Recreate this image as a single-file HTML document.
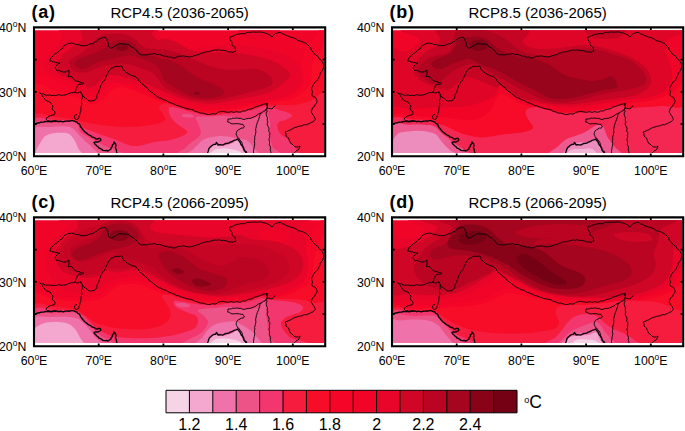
<!DOCTYPE html>
<html><head><meta charset="utf-8"><title>fig</title>
<style>html,body{margin:0;padding:0;background:#fff;overflow:hidden}svg{display:block}text{font-family:"Liberation Sans",sans-serif;fill:#000}</style></head><body>
<svg width="685" height="431" viewBox="0 0 685 431">
<defs><clipPath id="cp"><rect x="35" y="30.2" width="289" height="122.7"/></clipPath>
<g id="bd" fill="none" stroke="#10040a" stroke-linejoin="round" stroke-linecap="round"><path d="M50 61L50.3 59.4L51 58L51.8 56.8L53.1 56.1L54 55L55.1 53.7L56.7 53L58 52L59.3 50.9L60.4 49.6L62 49L63 47.7L63.6 46.1L65 45L66.6 44.4L68.2 43.5L70 43.4L71.5 43L73 43.4L74.4 43.7L75.6 44.5L77 44.6L78.4 44.6L79.7 45L81 45.6L83 45.7L85 45.6L86.8 45.5L88.4 44.6L90 44L91.3 43.6L92.8 43.8L94 43L95.1 41.6L96.9 41.3L98 40L99.2 39.1L100.5 38.3L102 38L103.4 37.3L105 37.4L106.1 38.1L107 39L107 40.4L108 41.6L108 43L108.3 44.4L108.5 45.7L109 47L110.1 47.6L111 48.4L112.5 47.7L114 47L115.3 45.6L117 45L118.2 44.1L119.6 43.8L121 43.6L122.5 44L124 44L125.7 44.1L127.4 44.2L129 44.6L130 46L131.5 46.9L133 47.6L134.5 48.8L136 50L137.2 51.1L137.8 52.6L139 53.6L140.4 54.5L142 55L144 54.7L146 55L147.4 54.7L148.7 54.4L150 54L151.4 54.2L152.7 54L154 53.6L155.4 53.7L156.6 54.6L158 54.4L159.8 54.4L161.4 55.1L163 55.6L164.6 56.3L166.4 56.2L168 57L169.5 57.2L171.1 57L172.5 57.9L174 58L175.8 57.6L177.4 56.7L179 56L180.7 56.4L182.3 55.8L184 56L185.5 56.4L187 56.6L188.5 56.8L190 57L191.3 56.5L192.8 56.4L194 55.6L195.6 55.6L197 54.8L198.5 54.6L200 54L201.5 52.9L203.4 52.9L205 52L206.7 51.8L208.4 51.8L210 51L211.6 51.1L213 50.3L214.5 50.1L216 50L217.5 50.3L219 49.7L220.5 50.3L222 50.4L223.6 50.4L225.1 50.6L226.6 50.9L228 51.6L229.6 52.1L231.4 51.8L233 52.4L234.4 51.5L236 51L235.4 49.3L235 47.6L233.9 46.3L232.4 45.6L231.8 44.1L232 42.4L231 41L230 39.6L229.8 38.3L229.6 37L231.1 36.9L232.4 36.3L233.8 35.8L235 35L236.7 34.4L238.5 34.2L240.2 33.8L242 33.6L243.7 33.7L245.3 33.6L246.7 32.5L248.4 32.3L250 32.4L251.6 32.1L253.2 32L254.8 32.1L256.4 32.2L258 32L259.8 32L261.6 32L263.3 32.7L265 33L266.7 33.5L268.3 34.4L270 35L270.7 36.3L272 37L273.1 36L274 34.7L275 33.6L276.4 33.3L277.7 33L279 32.4L280.8 32.5L282.2 33.8L284 34L285.5 35.1L287.2 35.9L289 36.4L290.6 37.2L292.4 37.4L294 38L295.3 38.7L296.7 39.2L297.7 40.4L299 41L300.6 41.1L302.1 41.6L303.6 42.2L305 43L306.5 43.7L307.8 44.9L309 46L310.1 47.1L310.8 48.4L311 50L312.3 51L313.3 52.1L314 53.6L315.6 54.7L317 56L318.3 56.7L318.7 58.3L320 59L320.9 60.4L322.3 61.5L323 63L323.4 64.3L323.6 65.6L323.6 67L323.2 68.4L322.9 69.8L322 71L321 72.2L320.2 73.4L320 75L319.4 76.3L318.7 77.7L318 79L317.3 80.3L316.3 81.3L315 82L314.1 83.6L313 85L312.8 86.4L311.8 87.6L311.6 89L312.1 90.7L312.5 92.4L311.8 94.3L312.4 96L313.6 96.7L315 97L316 98L316.3 99.3L317.1 100.6L317 102L316.3 103.3L315.2 104.5L315 106L313.7 106.7L312.9 107.9L312 109L311.7 110.6L311 112L312.1 113.4L313 115L314.1 116.2L314.5 117.8L315.6 119L314.3 120.5L313 122L311.2 122.4L309.7 123.5L308 124L306.6 124.8L304.9 124.7L303.3 125L302 126L300.3 126L298.6 126.4L297 127L295.2 127.4L293.6 128.1L292 129L290.8 129.9L289.3 130.3L288 131L286.5 131.6L285 132L285.8 133.2L286.1 134.6L286 136L287.2 136.8L288.2 137.8L289 139L289.3 140.6L290 142L290.7 143.3L292 144L293 145L294.1 146.1L295.4 146.8L297 147L298.6 146.9L300 146L299.6 147.5L299 149L297.7 150.2L296 151L295.2 152.2L294 153" stroke-width="0.95"/><path d="M50 61L51.6 61.2L53 62L54.4 61.9L55.6 62.5L57 62.6L58.4 63.2L60 63L58.3 63.7L57 65L56 66L55 67L55.4 68.5L56 70L57.3 70.6L58.8 70.3L60 71L61.6 71.5L63.3 72.1L65 72L66.5 71.6L67.8 70.9L69 70L69 72L69 74L68.8 75.3L68 76.4L69.5 76.7L71 76.4L72.1 77.1L73 78L73.8 79.2L74.7 80.3L76 81L77.4 81.2L78.7 81.6L80 82L81.2 82.8L82.6 82.9L84 83L83 84L81 84.3L79 84L78.3 85.3L77 86L77 87.4L75.9 88.6L76 90L75 92" stroke-width="0.95"/><path d="M75 92L76.4 92.8L78 93L79.4 92.2L81 92L81.4 93.2L82.4 94L82.8 95.7L84 97L85.4 98.1L87 99L88.1 99.9L89 101L90.7 101L92.3 100.6L94 101L94.7 99.7L96 99L96.8 97.8L96.8 96.4L97 95L97.7 93.7L98.7 92.5L99 91L99.4 89.3L100.3 87.8L100.4 86L101.5 84.7L102 83L102.8 81.8L103.8 80.8L105 80L105.5 78.3L106.1 76.6L107 75L107.7 73.7L108.1 72.2L109 71L109.9 69.9L110.7 68.7L112 68L113.7 67.6L115 66.4L117 66.3L119 66.4L120.5 66.2L122 66L122.4 67.5L123 69L123.7 70.3L125.1 70.9L126 72L127.3 73.3L129 74L130.5 74.8L132 75.6L133.5 76L135 76.4L136 77.2L137 78L138.4 79.2L139 81L140 82L141.2 82.8L142 84L143.6 84.6L144.5 86.2L146 87L147.2 87.8L148 89L148.8 90.2L150 91L151.3 92L152.8 92.9L154 94L155.5 95.2L157 96.4L158.2 97.1L159.4 98L160.9 98L162 99L163.5 99.7L165.1 100.1L166.6 100.7L168 101.6L169.4 102.5L171 102.8L172.5 103.5L174 104L175.4 104.8L176.8 105.6L178.5 105.7L180 106.4L181.5 107L183 107.4L184.5 107.9L186 108.4L187.5 108.9L189 109L190.5 109.3L192 109.6L193.5 110.2L194.8 111.2L196.4 111.6L198 112L199.4 112.8L200.9 113.2L202.6 113L204 113.6L205.5 113.9L206.9 114.4L208.5 114.5L210 114.4L211.5 113.9L213 113.8L214.5 114L216 114L217.3 112.6L219 112L220.6 111.6L222.3 111.3L224 111.6L225.5 111.9L227 112.1L228.5 112.3L230 112L231.6 111.7L233.2 112.2L234.8 112.2L236.4 111.6L238 112L239.6 112.1L241.1 112L242.5 111L244 111L245.6 110.9L247 109.9L248.5 109.5L250 109L251.7 109L253.1 108.3L254.4 107.2L256 107L257.5 106.4L259 106L260.4 105.3L262 105L263.6 104.2L265.3 103.9L267 103.6" stroke-width="0.95"/><path d="M40 93L41.6 93.9L43.5 93.9L45 95L46.7 95.2L48.5 95.2L50.3 95L52 95.6L53.6 95.3L55.2 95.5L56.8 95.3L58.4 94.7L60 95L61.8 95.3L63.5 95L65.3 95L67 94.4L68.5 93.5L70.1 93.2L71.7 92.5L73.5 92.7L75 92" stroke-width="0.95"/><path d="M40 93L41.2 94.2L42.3 95.4L43 97L44.1 97.9L44.7 99.3L45.8 100.2L47 101L48.4 101.5L49.8 102L51 103L51.7 104.7L53 106L52.7 107.3L52.4 108.6L52.4 110L54 110.7L55 112L54.9 113.6L54 115L52.3 115.1L50.7 115.7L49 116L48 117.3L46.4 118L46.3 119.3L47 120.4L48.7 120.7L50.3 121.1L52 121L53.5 120.7L55 121.7L56.5 121L58 121.6" stroke-width="0.95"/><path d="M81 92L81.1 93.5L82 94.7L82.4 96L82.4 97.5L81.9 99L81.4 100.4L81.6 102L81.7 103.5L81.7 105L81.1 106.5L81 108L80.9 109.7L80.7 111.4L80 113L79.8 114.6L79 116L78.9 117.6L78 119L76.7 119.4L75.4 119.2L74.7 117.7L74.4 116L75.4 115.1L76.6 114.6" stroke-width="0.95"/><path d="M34 124.4L35.4 124.2L36.6 123.3L38 123L39.5 122.8L40.9 122.2L42.5 122.1L44 122L45.5 121.4L47 121.6L48.5 121.2L50 121.6L51.5 121.7L53 121.4L54.5 120.8L56 121L57.5 121.1L59 121.7L60.5 121.1L62 121.6L63.5 121.8L65 121.2L66.5 121.1L68 121L69.7 121.2L71.3 120.6L73 120.6L74.3 121.1L75.6 121.7L77 122L77.7 123.3L79.1 123.9L80 125L80.5 126.5L81.4 127.8L82.4 129L83.6 130.6L85 132L86.6 133.1L88 134.4L89.4 135.1L90.9 135.8L92 137L93.5 137.3L94.9 137.9L96 139L97.4 139L98.6 138.4L100 138.4L101 140L99.8 141L98.5 141.7L97 142L95.5 141.9L94 142.4L94.7 143.9L96 145L96.9 146.1L98.2 146.8L99 148L100.5 148.6L101.8 149.4L103 150.4L104.7 150.6L106.4 150.5L108 151L109.5 150L111 149L111.2 147.6L112.4 146.5L112.4 145L113.6 143.7L114 142L114.8 143L115.6 144L116 145.6L115.4 147.4L116 149L116.4 150.5L116.6 152L117.2 153.4L117 155" stroke-width="1.4"/><path d="M207 155L207.4 153.4L208 151.8L208.5 150.2L209 148.6L209.8 147.4L211 146.6L212 145.6L213.6 144.5L215.6 144.4L216.4 142.4L217.4 143.6L218 145L219.7 144.6L221.3 144.9L223 145L224.4 144.1L225.8 143.5L227.4 143.3L229 143L230.1 142.1L231.5 141.8L232.8 141.1L234 140.4L235.9 139.9L237.6 139L238.7 140.6L240 142L240.6 143.4L241.3 144.9L242.4 146L243.1 147.2L243.9 148.4L243.9 150L245 151L246.3 151.9L246.8 153.4L248 154.4" stroke-width="1.4"/><path d="M267 103.6L267.2 105.3L267.6 107L267.1 108.6L265.6 109.5L265 111L263.5 111.3L262.3 112.2L261 113L259.6 113.5L258.2 114.1L257 115L255.9 116.1L254.3 116.6L253 117.4L251.5 117.9L250 118.4L248.4 118.4L246.9 118.7L245.4 119L244 119.6L242.4 119.1L240.8 118.4L239 118.4L237.5 118.1L236 118L234.5 118.4L233 118L231.4 118.8L229.7 119L228 119L227.9 120.5L227.6 122L229.5 122.4L231 123.6L232.8 123.9L234.5 123.7L236.2 123.7L238 123.6L239.6 124L241.3 124.3L243 124.4L243.7 125.7L244.4 127L243.1 128.1L241.3 128.1L240 129L238.4 129.8L237 131L236.5 132.5L236 134L236.6 135.3L237.2 136.7L238 138L239.3 138.7L239.8 140.2L241 141L241.7 142.3L242.3 143.5L242.4 145L243 146.3L243 147.7L243.6 149L244.6 150.4L245 152L246.4 153.4L248 154.4" stroke-width="0.95"/><path d="M261 113L259.9 114.5L259.7 116.3L259 118L258.6 119.5L258 121L257.3 122.4L257 124L256.4 125.4L256.2 127L255.8 128.5L255.6 130L255.9 131.5L255.7 133L255.4 134.5L255 136L254.6 137.5L254.9 139L254.5 140.5L254.4 142L254.8 143.5L254.6 145L254.3 146.5L254 148L253.7 149.7L253.5 151.3L253.6 153" stroke-width="0.95"/><path d="M267 103.6L266.8 105.1L267.2 106.5L267 108L268.7 108.3L270.3 108.6L272 109L273 108L273.7 106.7L275 106" stroke-width="0.95"/><path d="M267 108L266.5 109.6L267.1 111.2L266.3 112.8L266.2 114.4L266.6 116L267.4 117.4L267.3 119L267.3 120.6L268 122L267.2 123.4L267.4 125L268.2 126.5L269 128L269 129.5L268.6 131L269.6 132.4L270 134L269.3 135.4L269.8 137L269.2 138.5L269 140L269.6 141.4L269.5 143L269.3 144.6L270 146L270.6 147.7L270.2 149.5L270.7 151.3L271 153" stroke-width="0.95"/></g>
<g id="fr"><path d="M34 27.4 H325.2 V156.2 H34 Z" fill="none" stroke="#000" stroke-width="2.1"/><path d="M98.7 27.4v2.6M98.7 156.2v-2.6M163.4 27.4v2.6M163.4 156.2v-2.6M228.1 27.4v2.6M228.1 156.2v-2.6M292.8 27.4v2.6M292.8 156.2v-2.6M34 124h2.6M325.2 124h-2.6M34 91.8h2.6M325.2 91.8h-2.6M34 59.6h2.6M325.2 59.6h-2.6" stroke="#000" stroke-width="1.8" fill="none"/></g>
</defs>
<g transform="translate(0 0)">
<rect x="34" y="27.4" width="291.2" height="128.8" fill="#fff"/>
<g clip-path="url(#cp)">
<rect x="34" y="28" width="292" height="128" fill="#f00428"/>
<path d="M66 27C51.3 28.8 64 34.2 62 38C60 41.8 56.7 46.5 54 50C51.3 53.5 47.7 56.3 46 59C44.3 61.7 43.5 63.7 44 66C44.5 68.3 46.3 70.9 49 73C51.7 75.1 56.8 77.3 60 78.5C63.2 79.7 65.3 79.1 68 80C70.7 80.9 73.7 82.3 76 84C78.3 85.7 80 88.5 82 90C84 91.5 85.7 93 88 93C90.3 93 94 91.5 96 90C98 88.5 98.3 85.7 100 84C101.7 82.3 103.7 80.3 106 80C108.3 79.7 111 81.3 114 82C117 82.7 120.7 83.7 124 84C127.3 84.3 131 83.7 134 84C137 84.3 139.3 85 142 86C144.7 87 147.3 88.7 150 90C152.7 91.3 155.2 92.8 158 94C160.8 95.2 163.3 95.8 167 97C170.7 98.2 175.3 99.8 180 101C184.7 102.2 190 103.7 195 104.5C200 105.3 204.2 105.9 210 106C215.8 106.1 223.3 105.7 230 105C236.7 104.3 244 102.2 250 102C256 101.8 259.3 105.3 266 104C272.7 102.7 284 98 290 94C296 90 300.7 85 302 80C303.3 75 300.8 68.2 298 64C295.2 59.8 289.7 57.3 285 55C280.3 52.7 275.8 51.5 270 50C264.2 48.5 255.7 46.8 250 46C244.3 45.2 240.2 45.2 236 45C231.8 44.8 229.3 44.7 225 45C220.7 45.3 215.8 46.5 210 47C204.2 47.5 196.7 48.7 190 48C183.3 47.3 175.3 45.2 170 43C164.7 40.8 161.3 37.7 158 35C154.7 32.3 165.3 28.3 150 27C134.7 25.7 80.7 25.2 66 27Z" fill="#e80529"/>
<path d="M86 27C74.8 29 84.5 35.8 82.6 39C80.7 42.2 77.3 43.7 74.4 46C71.5 48.3 67.9 50.2 65 53C62.1 55.8 58.6 60 57 62.5C55.4 65 55 66.1 55.5 68C56 69.9 57.2 72 60 74C62.8 76 68 78.2 72 80C76 81.8 81.2 83.2 84 84.5C86.8 85.8 87.2 87.3 89 87.5C90.8 87.7 93 86.8 95 85.5C97 84.2 98.8 81.2 101 79.5C103.2 77.8 105.2 76.2 108 75.5C110.8 74.8 115 75.1 118 75.5C121 75.9 123.3 77.2 126 78C128.7 78.8 131.3 79.3 134 80C136.7 80.7 139.3 81.2 142 82C144.7 82.8 147.3 83.8 150 85C152.7 86.2 155.2 87.7 158 89C160.8 90.3 163.3 91.5 167 93C170.7 94.5 175.3 96.5 180 98C184.7 99.5 190 101.1 195 102C200 102.9 205 103.5 210 103.5C215 103.5 220 102.8 225 102C230 101.2 234.2 100.2 240 99C245.8 97.8 254.3 96.5 260 95C265.7 93.5 269 93.2 274 90C279 86.8 288.7 80 290 76C291.3 72 285.3 68.7 282 66C278.7 63.3 275.3 61.8 270 60C264.7 58.2 256.7 56.3 250 55C243.3 53.7 236.7 52.3 230 52C223.3 51.7 216.7 53.3 210 53C203.3 52.7 195 51.5 190 50C185 48.5 183.8 45.8 180 44C176.2 42.2 170.7 39.7 167 39C163.3 38.3 160.5 40.8 158 40C155.5 39.2 153.3 36.2 152 34C150.7 31.8 161 28.2 150 27C139 25.8 97.2 25 86 27Z" fill="#d00626"/>
<path d="M70 60C71 59 73.3 58 75 57C76.7 56 77.8 55.6 80 54C82.2 52.4 85.9 49.9 88.5 47.5C91.1 45.1 93.1 41.6 95.5 39.5C97.9 37.4 99.9 36 103 35C106.1 34 110.5 33.7 114 33.5C117.5 33.3 120.8 33.3 124 34C127.2 34.7 130.5 36 133 37.5C135.5 39 136.8 41.2 139 43C141.2 44.8 143.2 47 146 48C148.8 49 152.5 48.7 156 49C159.5 49.3 163 49.2 167 50C171 50.8 175.3 52.3 180 54C184.7 55.7 190 58 195 60C200 62 204.2 64.3 210 66C215.8 67.7 222.3 69.5 230 70C237.7 70.5 249.3 68 256 69C262.7 70 267.3 73.5 270 76C272.7 78.5 273.3 81.8 272 84C270.7 86.2 265.7 87.7 262 89C258.3 90.3 254.5 90.8 250 92C245.5 93.2 240 94.8 235 96C230 97.2 225 98.8 220 99.5C215 100.2 210 100.7 205 100.5C200 100.3 194.5 99.6 190 98.5C185.5 97.4 181.8 95.6 178 94C174.2 92.4 169.8 90.8 167 89C164.2 87.2 163 85.3 161 83C159 80.7 157.2 77 155 75C152.8 73 150.6 72.2 147.9 71C145.2 69.8 141.7 68.5 139 67.5C136.3 66.5 134.9 65.4 132 64.8C129.1 64.2 124.6 63.9 121.4 63.8C118.2 63.7 115.8 64.1 112.9 64.4C110 64.7 107 65 104 65.8C101 66.6 98.1 67.9 95.2 69C92.3 70.1 89.3 71.8 86.4 72.4C83.5 73 80.1 73 77.6 72.4C75.1 71.8 72.9 70.6 71.5 69C70.1 67.4 69.2 64.5 69 63C68.8 61.5 69 61 70 60Z" fill="#bb0422"/>
<path d="M74 62.8C74.3 61.3 77.1 59.7 79.4 58.5C81.7 57.3 85.1 56.6 88 55.5C90.9 54.4 94.3 53.2 97 52C99.7 50.8 102.2 49.7 104 48.5C105.8 47.3 106.7 46.1 108 45C109.3 43.9 110.3 42.8 112 42C113.7 41.2 115.5 40.7 117.9 40.4C120.4 40.1 124 39.9 126.7 40.2C129.3 40.5 132 41.3 133.8 42.4C135.6 43.5 136.1 45.3 137.3 46.8C138.5 48.3 139 49.9 140.8 51.2C142.6 52.5 145.5 53.8 147.9 54.7C150.3 55.6 152.6 55.8 155 56.5C157.4 57.2 159.9 58.5 162.3 59.1C164.7 59.7 167 59.3 169.3 60C171.7 60.7 174.1 62.3 176.4 63.5C178.7 64.7 180.6 65.3 183 67C185.4 68.7 187.8 71.4 191 73.5C194.2 75.6 198.5 77.8 202 79.5C205.5 81.2 208.7 81.9 212 83.5C215.3 85.1 220 87.5 222 89C224 90.5 224.2 91.4 224 92.5C223.8 93.6 223 94.6 221 95.5C219 96.4 215.5 97.6 212 98C208.5 98.4 203.7 98.4 200 98C196.3 97.6 193.3 96.8 190 95.5C186.7 94.2 183 92.1 180 90.5C177 88.9 174.3 87.4 172 86C169.7 84.6 167.6 83.5 166 82C164.4 80.5 163.2 78.6 162.3 76.7C161.4 74.8 161.7 72.6 160.5 70.6C159.3 68.6 157.3 66.1 155.2 64.5C153.1 62.9 150.3 62 147.9 61C145.5 60 143 59.2 140.8 58.4C138.6 57.6 136.7 56.5 134.6 56C132.5 55.5 130.9 55.3 128.5 55.5C126.1 55.7 123.2 56.4 120 57C116.8 57.6 112.2 58.7 109.3 59.4C106.3 60.1 104.6 60.5 102.3 61.1C100 61.8 97.4 62.3 95.2 63.3C93 64.2 91.1 65.8 89.1 66.8C87 67.8 84.8 68.9 82.9 69C81 69.1 79.1 68.3 77.6 67.3C76.1 66.3 73.7 64.3 74 62.8Z" fill="#a60520"/>
<path d="M240 27C234.3 28.5 241.3 34 244 36C246.7 38 252 38.7 256 39C260 39.3 264.7 38.8 268 38C271.3 37.2 274.3 35.8 276 34C277.7 32.2 284 28.2 278 27C272 25.8 245.7 25.5 240 27Z" fill="#e80529"/>
<path d="M115.7 47C115.7 46.1 116.5 44.9 117.5 44.2C118.5 43.5 120.5 43 122 43C123.5 43 125.5 43.5 126.5 44.2C127.5 44.9 128.3 46.1 128.3 47C128.3 47.9 127.5 49.1 126.5 49.8C125.5 50.5 123.5 51 122 51C120.5 51 118.5 50.5 117.5 49.8C116.5 49.1 115.7 47.9 115.7 47Z" fill="#880318"/>
<path d="M194 93C194.3 92.6 196 92 197 92C198 92 199.8 92.6 200 93C200.2 93.4 198.8 94.4 198 94.6C197.2 94.8 195.7 94.7 195 94.4C194.3 94.1 193.7 93.4 194 93Z" fill="#880318"/>
<path d="M33 80C37.5 67.7 52.2 81 60 83C67.8 85 74.5 89.5 80 92C85.5 94.5 89.2 98.3 93 98C96.8 97.7 100.2 92.5 103 90C105.8 87.5 106.3 84 110 83C113.7 82 120 82.7 125 84C130 85.3 135 88.5 140 91C145 93.5 150 96.8 155 99C160 101.2 164.2 103 170 104.5C175.8 106 183.3 107.2 190 108C196.7 108.8 203.3 109.5 210 109.5C216.7 109.5 223.3 108.9 230 108C236.7 107.1 243.3 105.3 250 104C256.7 102.7 263.3 101.3 270 100C276.7 98.7 284.5 98.7 290 96C295.5 93.3 301 89.3 303 84C305 78.7 301.7 69.7 302 64C302.3 58.3 303.3 54 305 50C306.7 46 308.5 42.3 312 40C315.5 37.7 323.7 16.5 326 36C328.3 55.5 374.8 136.8 326 157C277.2 177.2 81.8 169.8 33 157C-15.8 144.2 28.5 92.3 33 80Z" fill="#f50527"/>
<path d="M33 88C36.7 77 48 89.5 55 91C62 92.5 68.8 94.8 75 97C81.2 99.2 87.2 103.8 92 104C96.8 104.2 100.7 100.3 104 98C107.3 95.7 109 91.8 112 90C115 88.2 118.2 86.8 122 87C125.8 87.2 130.3 89.3 135 91C139.7 92.7 145 95.1 150 97C155 98.9 159.2 100.6 165 102.5C170.8 104.4 177.5 107 185 108.5C192.5 110 201.7 111.3 210 111.5C218.3 111.7 227.5 110.6 235 109.5C242.5 108.4 248.3 106.2 255 105C261.7 103.8 268.3 103.2 275 102C281.7 100.8 289.2 101 295 98C300.8 95 307.2 89.3 310 84C312.8 78.7 310.7 70.7 312 66C313.3 61.3 315.7 58.3 318 56C320.3 53.7 324.7 35.2 326 52C327.3 68.8 374.8 139.5 326 157C277.2 174.5 81.8 168.5 33 157C-15.8 145.5 29.3 99 33 88Z" fill="#f70d28"/>
<path d="M33 116C36.7 109.3 48 116.4 55 117C62 117.6 70.8 118.8 75 119.5C79.2 120.2 76.7 120.2 80 121C83.3 121.8 89 123.1 95 124C101 124.9 108.8 126 116 126.4C123.2 126.8 131.3 126.8 138 126.4C144.7 126 151.5 125.1 156 124C160.5 122.9 164 121.9 165 120C166 118.1 163 114.5 162 112.5C161 110.5 159 109.4 159 108C159 106.6 160.5 104.8 162 104C163.5 103.2 165 103 168 103.5C171 104 176 105.8 180 107C184 108.2 188 109.5 192 110.5C196 111.5 200 112.5 204 113C208 113.5 211.7 113.8 216 113.5C220.3 113.2 225.2 112.2 230 111.5C234.8 110.8 239.7 110.5 245 109.5C250.3 108.5 256.2 106.2 262 105.5C267.8 104.8 274.5 105.1 280 105C285.5 104.9 290 105.7 295 105C300 104.3 304.8 102.5 310 101C315.2 99.5 323.3 86.7 326 96C328.7 105.3 374.8 146.8 326 157C277.2 167.2 81.8 163.8 33 157C-15.8 150.2 29.3 122.7 33 116Z" fill="#f61c3e"/>
<path d="M33 120.5C36.7 114.3 47.8 119.9 55 120C62.2 120.1 71.8 120 76 121C80.2 122 77.8 124.5 80 126C82.2 127.5 85.3 128.5 89 130C92.7 131.5 97.4 133.3 102 135C106.6 136.7 111.8 138.3 116.5 140C121.2 141.7 125.9 144.5 130 145.4C134.1 146.3 136.7 146 141 145.4C145.3 144.8 151.3 142.7 156 141.8C160.7 141 164.9 141.2 169 140.3C173.1 139.5 177.5 137.9 180.5 136.7C183.5 135.5 186.2 134.2 187 133C187.8 131.8 186.8 131.1 185 129.4C183.2 127.7 178.5 125.3 176 123C173.5 120.7 171.2 118 170 115.5C168.8 113 168.2 109.3 169 108C169.8 106.7 172.2 107.1 175 107.5C177.8 107.9 182.2 109.5 186 110.5C189.8 111.5 194 112.7 198 113.5C202 114.3 206.3 115.3 210 115.5C213.7 115.7 215.8 114.9 220 114.5C224.2 114.1 230 113.7 235 113C240 112.3 244.8 111.6 250 110.5C255.2 109.4 261.2 106.6 266 106.5C270.8 106.4 275.2 108.9 279 110C282.8 111.1 286.5 112 288.7 113C290.9 114 292.5 114.8 292 116C291.5 117.2 287.7 119 285.5 120C283.3 121 280.4 120.8 279 122C277.6 123.2 277.1 125.4 277.4 127.4C277.7 129.4 279 132.1 280.6 134C282.2 135.9 284.8 136.8 287 138.7C289.2 140.6 291.9 143 293.6 145.2C295.3 147.4 296.8 149.7 297 151.7C297.2 153.7 339 156.1 295 157C251 157.9 76.7 163.1 33 157C-10.7 150.9 29.3 126.7 33 120.5Z" fill="#f3366e"/>
<path d="M33 124.5C36.7 118.8 47.8 123.3 55 123C62.2 122.7 71.8 121.1 76 122.5C80.2 123.9 77.8 129 80 131.5C82.2 134 85.8 135.5 89 137.4C92.2 139.3 95.7 141.3 99 143C102.3 144.7 105.8 146.3 109 147.6C112.2 148.9 115.5 149.4 118 151C120.5 152.6 138.2 156 124 157C109.8 158 48.2 162.4 33 157C17.8 151.6 29.3 130.2 33 124.5Z" fill="#ee5388"/>
<path d="M182 157C167.2 155.4 184.3 150.1 186 147.6C187.7 145.1 190 143.5 192 141.8C194 140.1 196.5 138.9 198 137.4C199.5 135.9 200.7 134.5 201 133C201.3 131.5 200.5 130.3 200 128.6C199.5 126.9 198.6 124.9 198 123C197.4 121.1 194.5 118.1 196.5 117C198.5 115.9 205.2 116.7 210 116.5C214.8 116.3 218.8 115.7 225 116C231.2 116.3 241.5 118.3 247 118.5C252.5 118.7 254.8 117.9 258 117C261.2 116.1 264 112.2 266 113C268 113.8 269.3 118.3 270 122C270.7 125.7 269.7 131 270 135C270.3 139 271.2 142.3 272 146C272.8 149.7 290 155.2 275 157C260 158.8 196.8 158.6 182 157Z" fill="#ee5388"/>
<path d="M182 114.5C182.9 114.1 186.1 113.8 188 114C189.9 114.2 192.9 114.9 193.6 115.5C194.3 116.1 193.3 117.2 192 117.5C190.7 117.8 187.6 117.4 186 117.2C184.4 117 183.2 117 182.5 116.5C181.8 116 181.1 114.9 182 114.5Z" fill="#ee5388"/>
<path d="M33 130C35.8 125 43.8 127.5 50 127C56.2 126.5 65 125.5 70 127C75 128.5 77.3 133.5 80 136C82.7 138.5 84 140.1 86 142C88 143.9 90.6 145.1 92 147.6C93.4 150.1 104.4 155.4 94.6 157C84.8 158.6 43.3 161.5 33 157C22.7 152.5 30.2 135 33 130Z" fill="#ef72ab"/>
<path d="M189 157C178.9 155.7 192.1 151.1 193.6 149C195.1 146.9 196.5 146.1 198 144.7C199.5 143.2 200.5 141.5 202.4 140.3C204.3 139.1 206.5 138.1 209.7 137.4C212.9 136.7 217.5 136 221.4 136C225.3 136 230.1 136.9 233 137.4C235.9 137.9 236.8 138.6 239 139C241.2 139.4 243.8 138.8 246 140C248.2 141.2 250.7 143.2 252 146C253.3 148.8 264.5 155.2 254 157C243.5 158.8 199.1 158.3 189 157Z" fill="#ef72ab"/>
<path d="M38 157C31.7 154.2 40 143.8 42 140C44 136.2 46 135.2 50 134C54 132.8 62.2 132.3 66 133C69.8 133.7 71 135.5 73 138C75 140.5 76.8 144.8 78 148C79.2 151.2 86.7 155.5 80 157C73.3 158.5 44.3 159.8 38 157Z" fill="#f4a8cf"/>
<path d="M208 157C201.7 155.8 207.6 151.8 208 150C208.4 148.2 209.1 147 210.4 146C211.7 145 214.7 144 216 144C217.3 144 216.8 145.8 218.5 146C220.2 146.2 223.6 145.9 226 145.4C228.4 144.9 231.1 143.8 233 143C234.9 142.2 236.3 140 237.5 140.3C238.7 140.6 239.5 143 240.4 144.7C241.3 146.4 242.1 148.4 243 150.5C243.9 152.6 251.8 155.9 246 157C240.2 158.1 214.3 158.2 208 157Z" fill="#f4a8cf"/>
<path d="M211 157C206.3 155.8 212.3 151.4 214 150C215.7 148.6 218.7 148.6 221.4 148.4C224.1 148.2 227.1 148.5 230 149C232.9 149.5 237 150 239 151.3C241 152.6 246.7 156.1 242 157C237.3 157.9 215.7 158.2 211 157Z" fill="#f7d3e6"/>
<use href="#bd"/>
</g>
<use href="#fr"/>
<text x="31.6" y="17.8" font-size="18" font-weight="bold" letter-spacing="0.7">(a)</text>
<text x="179.6" y="17.5" font-size="15" text-anchor="middle">RCP4.5 (2036-2065)</text>
<text x="26.3" y="32.4" font-size="12.3" text-anchor="end">40<tspan font-size="8.5" dy="-5">o</tspan><tspan dy="5">N</tspan></text>
<text x="26.3" y="96.8" font-size="12.3" text-anchor="end">30<tspan font-size="8.5" dy="-5">o</tspan><tspan dy="5">N</tspan></text>
<text x="26.3" y="161.2" font-size="12.3" text-anchor="end">20<tspan font-size="8.5" dy="-5">o</tspan><tspan dy="5">N</tspan></text>
<text x="34" y="175" font-size="12.3" text-anchor="middle">60<tspan font-size="8.5" dy="-5">o</tspan><tspan dy="5">E</tspan></text>
<text x="98.7" y="175" font-size="12.3" text-anchor="middle">70<tspan font-size="8.5" dy="-5">o</tspan><tspan dy="5">E</tspan></text>
<text x="163.4" y="175" font-size="12.3" text-anchor="middle">80<tspan font-size="8.5" dy="-5">o</tspan><tspan dy="5">E</tspan></text>
<text x="228.1" y="175" font-size="12.3" text-anchor="middle">90<tspan font-size="8.5" dy="-5">o</tspan><tspan dy="5">E</tspan></text>
<text x="292.8" y="175" font-size="12.3" text-anchor="middle">100<tspan font-size="8.5" dy="-5">o</tspan><tspan dy="5">E</tspan></text>
</g>
<g transform="translate(358 0)">
<rect x="34" y="27.4" width="291.2" height="128.8" fill="#fff"/>
<g clip-path="url(#cp)">
<rect x="34" y="28" width="292" height="128" fill="#f00428"/>
<path d="M60.7 27C18.6 28.9 62.1 35.2 61.4 38.6C60.7 42 59.1 45.2 56.3 47.4C53.5 49.6 48.5 51.1 44.6 51.8C40.7 52.5 34.9 42.1 33 51.8C31.1 61.5 30.2 100.5 33 110C35.8 119.5 43.8 109.3 50 109C56.2 108.7 64.7 108.2 70 108C75.3 107.8 77.7 107.6 82 107.5C86.3 107.4 91.3 107.8 96 107.5C100.7 107.2 105.3 106.9 110 106C114.7 105.1 120 103.3 124 102C128 100.7 131.5 99.7 134 98C136.5 96.3 137.8 94 139 92C140.2 90 139.8 86.7 141 86C142.2 85.3 143.5 86.5 146 88C148.5 89.5 152.7 93.1 156 95C159.3 96.9 162 98.1 166 99.5C170 100.9 175.2 102.4 180 103.5C184.8 104.6 190 105.5 195 106C200 106.5 204.2 106.8 210 106.8C215.8 106.8 223.3 106.5 230 105.8C236.7 105.1 243.3 103.5 250 102.5C256.7 101.5 263.3 100.3 270 99.5C276.7 98.7 284.5 98.6 290 97.5C295.5 96.4 299.7 94.9 303 93C306.3 91.1 308.2 88.8 310 86C311.8 83.2 313.7 79.7 314 76C314.3 72.3 313 68 312 64C311 60 308.3 56 308 52C307.7 48 309 44.2 310 40C311 35.8 355.6 29.2 314 27C272.4 24.8 102.8 25.1 60.7 27Z" fill="#de0527"/>
<path d="M84 27C70 28.9 83 35.4 82 38.6C81 41.8 80 44 78.2 46C76.4 48 73.4 48.7 71 50.3C68.6 51.9 65.6 53.7 63.6 55.4C61.6 57.1 60.4 58.7 59.2 60.5C58 62.3 56.9 64.5 56.3 66.4C55.7 68.4 55.1 70.3 55.6 72.2C56.1 74.1 57.4 76.3 59.2 78C61 79.7 64 81.3 66.5 82.5C69 83.7 71.7 84.5 73.9 85.4C76.2 86.3 77.7 87.2 80 88C82.3 88.8 85.3 90.3 88 90C90.7 89.7 93.7 87.7 96 86C98.3 84.3 99.7 81.5 102 80C104.3 78.5 107 77 110 77C113 77 116.7 78.8 120 80C123.3 81.2 126.7 82.7 130 84C133.3 85.3 136.7 86.5 140 88C143.3 89.5 146.7 91.5 150 93C153.3 94.5 156.3 95.8 160 97C163.7 98.2 167 99 172 100C177 101 184.7 102.5 190 103.2C195.3 103.9 199 104.1 204 104.2C209 104.3 214 104.3 220 103.7C226 103.1 233.3 101.8 240 100.8C246.7 99.8 254 98.9 260 98C266 97.1 271.3 96.8 276 95.5C280.7 94.2 285.2 92.1 288 90C290.8 87.9 292.3 85.5 293 83C293.7 80.5 293 77.7 292 75C291 72.3 289.8 69.8 287 67C284.2 64.2 279.8 61.1 275 58.5C270.2 55.9 263.8 53.5 258 51.5C252.2 49.5 245.5 47.6 240 46.5C234.5 45.4 230 44.9 225 45C220 45.1 215.8 46.3 210 47C204.2 47.7 196 48.8 190 49C184 49.2 178.2 49.2 174 48C169.8 46.8 166.3 45.5 165 42C163.7 38.5 179.5 29.5 166 27C152.5 24.5 98 25.1 84 27Z" fill="#c60524"/>
<path d="M228 27C222.3 28.5 229.2 34 232 36C234.8 38 240.3 38.7 245 39C249.7 39.3 256.5 39 260 38C263.5 37 265 34.8 266 33C267 31.2 272.3 28 266 27C259.7 26 233.7 25.5 228 27Z" fill="#c60524"/>
<path d="M110 27C115 27.7 124 29.2 130 31C136 32.8 141.7 35.5 146 38C150.3 40.5 152.7 43.7 156 46C159.3 48.3 162.3 50.5 166 52C169.7 53.5 174 54.3 178 55C182 55.7 185.3 56.3 190 56C194.7 55.7 199.8 54.2 206 53C212.2 51.8 221 48.9 227 48.5C233 48.1 237.2 49.5 242 50.5C246.8 51.5 251.2 53 256 54.5C260.8 56 266.5 57.1 271 59.5C275.5 61.9 280.1 65.9 283 69C285.9 72.1 288.2 75.3 288.5 78C288.8 80.7 287.9 83.1 285 85C282.1 86.9 276.8 88.2 271 89.5C265.2 90.8 256.8 91.6 250 93C243.2 94.4 236.7 96.5 230 98C223.3 99.5 215.7 101.3 210 102C204.3 102.7 200.3 102.5 196 102C191.7 101.5 188 100.3 184 99C180 97.7 176 95.8 172 94C168 92.2 163.7 90 160 88C156.3 86 154 84.2 150 82C146 79.8 140.2 77.3 136 75C131.8 72.7 128.1 69.8 125 68C122 66.2 120.4 64.7 117.7 64.2C115 63.7 111.9 64.3 109 64.9C106.1 65.5 103.1 66.4 100.2 67.9C97.3 69.4 94.6 71.3 91.4 73.7C88.2 76.1 84.1 80.9 81.2 82.5C78.3 84.1 76.1 83.7 73.9 83.2C71.7 82.7 70.2 81.2 68 79.6C65.8 78 61.8 75.9 60.7 73.7C59.6 71.5 59.4 69.1 61.4 66.4C63.4 63.7 67.9 59.8 72.4 57.6C76.9 55.4 84.8 55.1 88.5 53.2C92.2 51.3 93.1 48.7 94.3 46C95.5 43.3 94.8 40.4 95.8 37.2C96.8 34 97.8 28.7 100.2 27C102.6 25.3 105 26.3 110 27Z" fill="#b00421"/>
<path d="M73.9 65C73.4 63.8 73.6 62.6 75.3 61.3C77 59.9 81.1 58.2 84 56.9C86.9 55.5 90.7 55 92.9 53.2C95.1 51.4 96.1 48.2 97.3 46C98.5 43.8 98.2 41.4 100.2 40C102.2 38.6 105.7 38.1 109 37.5C112.3 36.9 116.5 36.1 120 36.5C123.5 36.9 127 38.2 130 40C133 41.8 134.7 44.7 138 47C141.3 49.3 146 52.3 150 54C154 55.7 157.7 56.2 162 57C166.3 57.8 171.3 57.8 176 59C180.7 60.2 186 62 190 64C194 66 196.7 68.9 200 71C203.3 73.1 206.3 75.1 210 76.4C213.7 77.7 218 78.2 222 79C226 79.8 230 81 234 81C238 81 242.7 79.8 246 79C249.3 78.2 251.8 75.6 254 76.4C256.2 77.2 258.3 82.1 259 84C259.7 85.9 260.2 87 258 88C255.8 89 250.7 89 246 90C241.3 91 235.3 92.7 230 94C224.7 95.3 219 97.2 214 98C209 98.8 204 99.1 200 99C196 98.9 192.7 98.3 190 97.5C187.3 96.7 187 95.6 184 94C181 92.4 176 90 172 88C168 86 163.7 84 160 82C156.3 80 154 78.2 150 76C146 73.8 140.7 71 136 69C131.3 67 126 65.7 122 64C118 62.3 115.1 59.6 111.9 59C108.7 58.4 106.2 59.6 103 60.5C99.8 61.4 95.8 63 92.9 64.2C90 65.4 88 67.2 85.6 67.9C83.1 68.6 80.2 69.1 78.2 68.6C76.2 68.1 74.4 66.2 73.9 65Z" fill="#97041c"/>
<path d="M111.9 43C112.6 41.7 115.5 40.5 117.7 40C119.9 39.5 123 39.5 125 40C127 40.5 129.3 41.7 130 43C130.7 44.3 130.6 46.7 129 48C127.4 49.3 123.2 51 120.6 51C118 51 114.8 49.3 113.3 48C111.8 46.7 111.2 44.3 111.9 43Z" fill="#7f0216"/>
<path d="M33 110C35.8 102 43.8 109.3 50 109C56.2 108.7 64.7 108.2 70 108C75.3 107.8 77.7 107.6 82 107.5C86.3 107.4 91.3 107.8 96 107.5C100.7 107.2 105.3 106.9 110 106C114.7 105.1 120 103.3 124 102C128 100.7 131.5 99.7 134 98C136.5 96.3 137.8 94 139 92C140.2 90 139.8 86.7 141 86C142.2 85.3 143.5 86.3 146 88C148.5 89.7 152.7 93.8 156 96C159.3 98.2 162 99.8 166 101.5C170 103.2 175.2 104.8 180 106C184.8 107.2 190 108.2 195 109C200 109.8 204.2 110.4 210 110.5C215.8 110.6 223.3 110.2 230 109.5C236.7 108.8 243.3 107.2 250 106C256.7 104.8 263.3 103.1 270 102C276.7 100.9 284.2 100.8 290 99.5C295.8 98.2 301 95.9 305 94C309 92.1 310.5 90 314 88C317.5 86 324 70.5 326 82C328 93.5 374.8 144.5 326 157C277.2 169.5 81.8 164.8 33 157C-15.8 149.2 30.2 118 33 110Z" fill="#f20427"/>
<path d="M33 117C37.5 110.2 52.2 116.5 60 116.5C67.8 116.5 74.2 116.7 80 117C85.8 117.3 89.8 117.9 94.6 118.4C99.4 118.9 104.8 119.9 109 120C113.2 120.1 116.3 120 119.5 119C122.7 118 125.6 115.8 128 114C130.4 112.2 132.5 110.2 134 108C135.5 105.8 135.8 103.2 137 101C138.2 98.8 139.5 96.2 141 95C142.5 93.8 143.5 93.2 146 94C148.5 94.8 152.7 98.2 156 100C159.3 101.8 162 103.2 166 104.5C170 105.8 175.2 107 180 108C184.8 109 190 109.8 195 110.5C200 111.2 204.2 111.9 210 112C215.8 112.1 223.3 111.8 230 111C236.7 110.2 243.3 108.8 250 107.5C256.7 106.2 263.3 104.6 270 103.5C276.7 102.4 284.2 102.1 290 101C295.8 99.9 300.7 98.5 305 97C309.3 95.5 312.5 93.5 316 92C319.5 90.5 324.3 77.2 326 88C327.7 98.8 374.8 145.5 326 157C277.2 168.5 81.8 163.7 33 157C-15.8 150.3 28.5 123.8 33 117Z" fill="#f70b29"/>
<path d="M33 120C36.7 113.8 47.8 119.4 55 119.5C62.2 119.6 71.8 119.8 76 120.5C80.2 121.2 77.9 122.5 80 123.5C82.1 124.5 85.6 125.1 88.8 126.4C92 127.7 95.6 130.1 99 131.5C102.4 132.9 105.3 134 109 135C112.7 136 117.3 137.1 121 137.4C124.7 137.7 127.6 137.1 131 136.7C134.4 136.3 137.7 135.5 141.4 135C145.1 134.5 149.1 134.1 153 133.7C156.9 133.2 161.4 133 164.8 132.3C168.2 131.6 171.9 130.4 173.6 129.4C175.3 128.4 175.5 128 175 126.4C174.5 124.8 171.8 122 170.6 119.9C169.4 117.8 168 115.7 167.7 114C167.4 112.3 168 110.7 169 109.6C170 108.5 171.8 107.8 173.6 107.4C175.4 107 176.9 106.7 180 107.2C183.1 107.7 188 109.5 192 110.5C196 111.5 200 112.5 204 113C208 113.5 211.7 113.8 216 113.5C220.3 113.2 225.2 112.2 230 111.5C234.8 110.8 239.7 110.5 245 109.5C250.3 108.5 257.8 105.8 262 105.5C266.2 105.2 265.3 107.8 270 108C274.7 108.2 284 107.3 290 107C296 106.7 301.3 105.8 306 106C310.7 106.2 314.7 107 318 108C321.3 109 324.7 103.8 326 112C327.3 120.2 374.8 149.5 326 157C277.2 164.5 81.8 163.2 33 157C-15.8 150.8 29.3 126.2 33 120Z" fill="#f42752"/>
<path d="M33 125.2C35.9 119.8 44.9 124.8 50.4 124.7C55.9 124.6 61.7 124.5 65.8 124.7C69.9 124.9 72.8 125.1 75 125.7C77.2 126.3 77.7 127.2 79 128.3C80.3 129.4 81.3 130.9 83 132.4C84.7 133.9 87.2 135.8 89.3 137.5C91.4 139.2 93.6 141.2 95.4 142.6C97.2 144 98.2 144.5 100 145.7C101.8 146.9 104.3 148.1 106 150C107.7 151.9 122.2 155.8 110 157C97.8 158.2 45.8 162.3 33 157C20.2 151.7 30.1 130.6 33 125.2Z" fill="#ee5a8f"/>
<path d="M33 157C22.6 155.2 32.7 148.8 33 146C33.3 143.2 33.8 142.6 35 140.5C36.2 138.4 37.6 134.9 40.2 133.4C42.8 131.9 47 131.8 50.4 131.4C53.8 131 57.3 130.7 60.7 130.8C64.1 130.9 68 131.3 70.9 131.9C73.8 132.5 76.2 133.1 78 134.4C79.8 135.7 80.5 137.6 82 139.5C83.5 141.4 85.7 144 87.2 145.7C88.8 147.4 89.9 147.8 91.3 149.7C92.7 151.6 105.1 155.8 95.4 157C85.7 158.2 43.4 158.8 33 157Z" fill="#ec8dbe"/>
<path d="M193 157C183.1 155.2 197.9 149 200.5 146C203.1 143 205.8 140.7 208.7 139C211.6 137.3 214.9 136.9 218 135.7C221.1 134.5 224.7 133.4 227.4 132C230.1 130.6 232.3 128.7 234.4 127.5C236.5 126.3 238.2 125.2 240 125C241.8 124.8 243.8 125.5 245 126.5C246.2 127.5 246.2 129.1 247 131C247.8 132.9 248.5 135.5 250 138C251.5 140.5 254.3 142.8 256 146C257.7 149.2 270.5 155.2 260 157C249.5 158.8 202.9 158.8 193 157Z" fill="#ee5a8f"/>
<path d="M207 157C200.8 155.6 207.9 150.6 208.7 148.6C209.5 146.6 210.4 146 212 145C213.6 144 215.4 143.2 218 142.7C220.6 142.2 224.7 142.5 227.4 142C230.1 141.5 232.6 140 234.4 139.5C236.2 139 237 138.4 238 139C239 139.6 239.7 141.3 240.5 143C241.3 144.7 242.1 146.7 243 149C243.9 151.3 252 155.7 246 157C240 158.3 213.2 158.4 207 157Z" fill="#ec8dbe"/>
<path d="M209 157C204.7 155.8 211.1 151 213.4 149.7C215.7 148.4 219.6 149.2 222.7 149C225.8 148.8 229.7 148.2 232 148.5C234.3 148.8 235.6 149.6 236.8 151C238 152.4 243.6 156 239 157C234.4 158 213.3 158.2 209 157Z" fill="#f3b4d6"/>
<use href="#bd"/>
</g>
<use href="#fr"/>
<text x="31.6" y="17.8" font-size="18" font-weight="bold" letter-spacing="0.7">(b)</text>
<text x="179.6" y="17.5" font-size="15" text-anchor="middle">RCP8.5 (2036-2065)</text>
<text x="26.3" y="32.4" font-size="12.3" text-anchor="end">40<tspan font-size="8.5" dy="-5">o</tspan><tspan dy="5">N</tspan></text>
<text x="26.3" y="96.8" font-size="12.3" text-anchor="end">30<tspan font-size="8.5" dy="-5">o</tspan><tspan dy="5">N</tspan></text>
<text x="26.3" y="161.2" font-size="12.3" text-anchor="end">20<tspan font-size="8.5" dy="-5">o</tspan><tspan dy="5">N</tspan></text>
<text x="34" y="175" font-size="12.3" text-anchor="middle">60<tspan font-size="8.5" dy="-5">o</tspan><tspan dy="5">E</tspan></text>
<text x="98.7" y="175" font-size="12.3" text-anchor="middle">70<tspan font-size="8.5" dy="-5">o</tspan><tspan dy="5">E</tspan></text>
<text x="163.4" y="175" font-size="12.3" text-anchor="middle">80<tspan font-size="8.5" dy="-5">o</tspan><tspan dy="5">E</tspan></text>
<text x="228.1" y="175" font-size="12.3" text-anchor="middle">90<tspan font-size="8.5" dy="-5">o</tspan><tspan dy="5">E</tspan></text>
<text x="292.8" y="175" font-size="12.3" text-anchor="middle">100<tspan font-size="8.5" dy="-5">o</tspan><tspan dy="5">E</tspan></text>
</g>
<g transform="translate(0 190)">
<rect x="34" y="27.4" width="291.2" height="128.8" fill="#fff"/>
<g clip-path="url(#cp)">
<rect x="34" y="28" width="292" height="128" fill="#f00428"/>
<path d="M76 27C37.7 28.5 72.7 33.2 70 36C67.3 38.8 63 41.3 60 44C57 46.7 54.2 48.7 52 52C49.8 55.3 47.8 60 47 64C46.2 68 46.5 72.3 47 76C47.5 79.7 48.5 83 50 86C51.5 89 53.7 91.7 56 94C58.3 96.3 60.7 98.5 64 100C67.3 101.5 72 102.3 76 103C80 103.7 84.3 104.5 88 104C91.7 103.5 95 101.7 98 100C101 98.3 103.3 95.7 106 94C108.7 92.3 111 91 114 90C117 89 120.7 88.7 124 88C127.3 87.3 131 86.2 134 86C137 85.8 139.3 86.3 142 87C144.7 87.7 147.3 89 150 90C152.7 91 155.2 92 158 93C160.8 94 163.3 94.7 167 96C170.7 97.3 175.3 99.5 180 101C184.7 102.5 190 104 195 105C200 106 204.2 106.6 210 107C215.8 107.4 223.3 107.3 230 107.5C236.7 107.7 243.3 108.2 250 108C256.7 107.8 263.3 107.5 270 106C276.7 104.5 284.3 101.3 290 99C295.7 96.7 300.5 95.2 304 92C307.5 88.8 309.5 84.3 311 80C312.5 75.7 313.5 70.7 313 66C312.5 61.3 310 56 308 52C306 48 302.8 45 301 42C299.2 39 297.2 36.5 297 34C296.8 31.5 336.8 28.2 300 27C263.2 25.8 114.3 25.5 76 27Z" fill="#e80529"/>
<path d="M258 44C258.3 42.3 262.3 40.7 266 40C269.7 39.3 276 39.3 280 40C284 40.7 288.7 42.3 290 44C291.3 45.7 290.3 48.7 288 50C285.7 51.3 280 52 276 52C272 52 267 51.3 264 50C261 48.7 257.7 45.7 258 44Z" fill="#f00428"/>
<path d="M84 27C72 28.8 80.7 34.8 78 38C75.3 41.2 71 43.3 68 46C65 48.7 62.2 51 60 54C57.8 57 55.5 60.7 55 64C54.5 67.3 55.5 71 57 74C58.5 77 60.8 80 64 82C67.2 84 72 85 76 86C80 87 84.3 88 88 88C91.7 88 95 87.2 98 86C101 84.8 103.3 81.7 106 81C108.7 80.3 111.3 81.8 114 82C116.7 82.2 119.3 82.3 122 82C124.7 81.7 127.3 80.3 130 80C132.7 79.7 135.3 79.5 138 80C140.7 80.5 143.3 81.8 146 83C148.7 84.2 151.3 85.7 154 87C156.7 88.3 159 89.5 162 91C165 92.5 168 94.3 172 96C176 97.7 181.3 99.7 186 101C190.7 102.3 195.3 103.2 200 104C204.7 104.8 209.7 105.7 214 106C218.3 106.3 220.7 106.4 226 106C231.3 105.6 239 104.7 246 103.5C253 102.3 261 100.8 268 99C275 97.2 282.7 95.5 288 93C293.3 90.5 297.5 87.5 300 84C302.5 80.5 303.5 75.8 303 72C302.5 68.2 300.2 64 297 61C293.8 58 288.8 55.8 284 54C279.2 52.2 273.3 51.2 268 50.5C262.7 49.8 256.7 50.4 252 49.5C247.3 48.6 243.7 45.5 240 45C236.3 44.5 235 46.1 230 46.5C225 46.9 216.7 47.6 210 47.5C203.3 47.4 196.7 46.6 190 46C183.3 45.4 175.7 44.7 170 44C164.3 43.3 159.3 43.2 156 42C152.7 40.8 151 39.5 150 37C149 34.5 161 28.7 150 27C139 25.3 96 25.2 84 27Z" fill="#d00626"/>
<path d="M84 40C81.3 41.2 80.3 42.3 78 44C75.7 45.7 72.5 47.7 70 50C67.5 52.3 64.7 55.7 63 58C61.3 60.3 60.2 61.7 60 64C59.8 66.3 60.7 69.5 62 72C63.3 74.5 65.3 77.2 68 79C70.7 80.8 74.7 82 78 83C81.3 84 84.8 85 88 85C91.2 85 94.3 84.2 97 83C99.7 81.8 101.5 78.8 104 78C106.5 77.2 109 77.8 112 78C115 78.2 119 79 122 79C125 79 127.3 78.2 130 78C132.7 77.8 135.3 77.7 138 78C140.7 78.3 143.3 79 146 80C148.7 81 151.3 82.5 154 84C156.7 85.5 159 87.3 162 89C165 90.7 168 92.2 172 94C176 95.8 181.3 98.1 186 99.5C190.7 100.9 195.3 101.7 200 102.5C204.7 103.3 209.7 104.2 214 104.5C218.3 104.8 221 105.1 226 104.5C231 103.9 238 102.2 244 101C250 99.8 256 98.8 262 97C268 95.2 275.5 92.8 280 90C284.5 87.2 287.8 83.3 289 80C290.2 76.7 289.3 73.2 287 70C284.7 66.8 279.8 63.4 275 61C270.2 58.6 265.5 56.7 258 55.5C250.5 54.3 238 54.1 230 54C222 53.9 216.7 54.5 210 55C203.3 55.5 196 56.8 190 57C184 57.2 179 56.3 174 56C169 55.7 164 55.7 160 55C156 54.3 152.7 53.5 150 52C147.3 50.5 146 48 144 46C142 44 140.7 41.8 138 40C135.3 38.2 131.7 36.2 128 35C124.3 33.8 120 32.7 116 32.5C112 32.3 107.7 33.2 104 34C100.3 34.8 97.3 36 94 37C90.7 38 86.7 38.8 84 40Z" fill="#c60524"/>
<path d="M70 63C70 61 71 58.8 73 57C75 55.2 78.5 53.7 82 52C85.5 50.3 91.3 48.8 94 47C96.7 45.2 96.7 43 98 41C99.3 39 100 36.6 102 35C104 33.4 107 32.2 110 31.5C113 30.8 116.7 30.4 120 30.5C123.3 30.6 127 30.9 130 32C133 33.1 136 35 138 37C140 39 140.8 41.5 142 44C143.2 46.5 144 49.8 145 52C146 54.2 146.5 56 148 57C149.5 58 150.3 58.2 154 58C157.7 57.8 165 55.8 170 56C175 56.2 179.3 57.2 184 59C188.7 60.8 193.7 64.7 198 67C202.3 69.3 206 71.5 210 73C214 74.5 218.3 76.2 222 76C225.7 75.8 229 73.5 232 72C235 70.5 236 67.5 240 67C244 66.5 251.7 67.7 256 69C260.3 70.3 263.8 72.5 266 75C268.2 77.5 269.7 81.5 269 84C268.3 86.5 265.8 88.3 262 90C258.2 91.7 251.3 92.3 246 94C240.7 95.7 235.3 98.3 230 100C224.7 101.7 219 103.5 214 104C209 104.5 204 103.5 200 103C196 102.5 193.7 102.2 190 101C186.3 99.8 181.7 97.8 178 96C174.3 94.2 171 92 168 90C165 88 162.3 86 160 84C157.7 82 156.3 79.7 154 78C151.7 76.3 149 75.2 146 74C143 72.8 139.3 72 136 71C132.7 70 129 69.2 126 68C123 66.8 120.7 65 118 64C115.3 63 112.3 61.8 110 62C107.7 62.2 106.7 63.8 104 65C101.3 66.2 97.7 67.8 94 69C90.3 70.2 85.5 72 82 72C78.5 72 75 70.5 73 69C71 67.5 70 65 70 63Z" fill="#bb0422"/>
<path d="M72 64C72.3 62.1 74.7 59.9 78 58C81.3 56.1 88.3 54.5 92 52.5C95.7 50.5 98 48.2 100 46C102 43.8 102.3 40.8 104 39C105.7 37.2 107.5 35.9 110 35C112.5 34.1 115.8 33.5 119 33.5C122.2 33.5 126.2 33.9 129 35C131.8 36.1 134.3 38.2 136 40C137.7 41.8 139.2 43.9 139 46C138.8 48.1 137.5 50.7 135 52.5C132.5 54.3 128.5 55.6 124 57C119.5 58.4 112.7 59.7 108 61C103.3 62.3 99.8 63.6 96 65C92.2 66.4 88.3 68.8 85 69.5C81.7 70.2 78.2 70.4 76 69.5C73.8 68.6 71.7 65.9 72 64Z" fill="#a60520"/>
<path d="M159 64C160.2 62.2 164.8 61 168 61C171.2 61 174.7 62.5 178 64C181.3 65.5 184.7 67.7 188 70C191.3 72.3 194.7 76 198 78C201.3 80 204.7 80.8 208 82C211.3 83.2 215 84 218 85C221 86 224.5 86.5 226 88C227.5 89.5 227.8 92.2 227 94C226.2 95.8 224.2 97.8 221 99C217.8 100.2 212.2 101.1 208 101C203.8 100.9 200 99.8 196 98.5C192 97.2 187.7 94.9 184 93C180.3 91.1 177 89.2 174 87C171 84.8 168.2 82.5 166 80C163.8 77.5 162.2 74.7 161 72C159.8 69.3 157.8 65.8 159 64Z" fill="#a60520"/>
<path d="M110 45.5C110 44.2 110.9 42.4 112.5 41.5C114.1 40.6 117.2 40 119.5 40C121.8 40 124.9 40.6 126.5 41.5C128.1 42.4 129 44.2 129 45.5C129 46.8 128.1 48.6 126.5 49.5C124.9 50.4 121.8 51 119.5 51C117.2 51 114.1 50.4 112.5 49.5C110.9 48.6 110 46.8 110 45.5Z" fill="#880318"/>
<path d="M172 80C172 79 176 77.7 178 78C180 78.3 184 81 184 82C184 83 180 84.3 178 84C176 83.7 172 81 172 80Z" fill="#880318"/>
<path d="M192 90.5C192.3 89.3 195.7 88.4 198 88.5C200.3 88.6 203.8 90 206 91C208.2 92 211.3 93.6 211 94.5C210.7 95.4 206.5 96.2 204 96.4C201.5 96.6 198 96.5 196 95.5C194 94.5 191.7 91.7 192 90.5Z" fill="#880318"/>
<path d="M33 100C35 90.8 41.2 101 45 102C48.8 103 51.8 105 56 106C60.2 107 64.7 107.7 70 108C75.3 108.3 83 108.7 88 108C93 107.3 96.7 105.7 100 104C103.3 102.3 105.3 99.8 108 98C110.7 96.2 113 94.2 116 93C119 91.8 122 91.3 126 91C130 90.7 135.2 90 140 91C144.8 92 150 95 155 97C160 99 164.2 101.2 170 103C175.8 104.8 183.3 106.4 190 107.5C196.7 108.6 203.3 109.2 210 109.5C216.7 109.8 223.3 109.5 230 109.5C236.7 109.5 243.3 109.8 250 109.5C256.7 109.2 263.3 109.4 270 108C276.7 106.6 284.3 104 290 101C295.7 98 301 94.5 304 90C307 85.5 307.7 79.7 308 74C308.3 68.3 305.3 61.3 306 56C306.7 50.7 308.7 45 312 42C315.3 39 323.7 18.8 326 38C328.3 57.2 374.8 137.2 326 157C277.2 176.8 81.8 166.5 33 157C-15.8 147.5 31 109.2 33 100Z" fill="#f50527"/>
<path d="M33 106C35.8 97.8 43.8 107.2 50 108C56.2 108.8 63.3 110.5 70 111C76.7 111.5 84.3 111.7 90 111C95.7 110.3 100.3 108.8 104 107C107.7 105.2 109.3 102 112 100C114.7 98 117 96 120 95C123 94 126.3 94 130 94C133.7 94 137.7 93.8 142 95C146.3 96.2 151.3 99.2 156 101C160.7 102.8 165.2 104.6 170 106C174.8 107.4 178.3 108.5 185 109.5C191.7 110.5 201.7 111.8 210 112C218.3 112.2 227.5 111.4 235 111C242.5 110.6 248.3 110.1 255 109.5C261.7 108.9 268.3 108.8 275 107.5C281.7 106.2 289.2 104.9 295 102C300.8 99.1 306.8 95.3 310 90C313.2 84.7 312.7 75.7 314 70C315.3 64.3 316 59 318 56C320 53 324.7 35.2 326 52C327.3 68.8 374.8 139.5 326 157C277.2 174.5 81.8 165.5 33 157C-15.8 148.5 30.2 114.2 33 106Z" fill="#f70d28"/>
<path d="M33 116C36.7 109.3 48 116.4 55 117C62 117.6 70.8 118.7 75 119.5C79.2 120.3 77.8 120.7 80 122C82.2 123.3 85.4 125.7 88 127.5C90.6 129.3 92.6 131.4 95.6 132.8C98.6 134.2 102.3 135.1 106 136C109.7 136.9 111.9 137.7 117.5 138.3C123.1 138.9 133.2 139.5 139.4 139.4C145.7 139.3 150.9 138.4 155 137.5C159.1 136.6 161.5 135.6 164 134C166.5 132.4 169 130.3 170 128C171 125.7 170.7 122.5 170 120C169.3 117.5 167.3 115.3 166 113C164.7 110.7 161.7 107.4 162 106C162.3 104.6 165 104.2 168 104.5C171 104.8 176 106.9 180 108C184 109.1 188 110.1 192 111C196 111.9 200 113 204 113.5C208 114 211.7 114.2 216 114C220.3 113.8 225.2 112.6 230 112C234.8 111.4 239.7 111.5 245 110.5C250.3 109.5 257.8 106.3 262 106C266.2 105.7 266 108 270 108.5C274 109 280.7 108.8 286 109C291.3 109.2 297.3 109.3 302 110C306.7 110.7 310 112 314 113C318 114 324 108.7 326 116C328 123.3 374.8 150.2 326 157C277.2 163.8 81.8 163.8 33 157C-15.8 150.2 29.3 122.7 33 116Z" fill="#f61c3e"/>
<path d="M33 120.5C36.7 114.3 47.8 119.9 55 120C62.2 120.1 72.2 120.7 76 121C79.8 121.3 76.5 121.1 78 122C79.5 122.9 82.7 124.8 84.7 126.5C86.7 128.2 88.2 130.2 90 132C91.8 133.8 93.6 135.6 95.6 137.2C97.6 138.8 99.8 140.2 102 141.5C104.2 142.8 106.1 144 108.8 144.9C111.5 145.8 114.7 146.5 118 147C121.3 147.5 123.2 147.8 128.5 148C133.8 148.2 143.1 148.3 150 148C156.9 147.7 164.7 146.8 170 146C175.3 145.2 178.7 143.9 182 143C185.3 142.1 187.8 141.3 190 140.5C192.2 139.7 193.7 139.4 195 138C196.3 136.6 197.8 134 198 132C198.2 130 198 127.7 196 126C194 124.3 189.3 123.5 186 122C182.7 120.5 178 118.8 176 117C174 115.2 173 111.9 174 111C175 110.1 179.3 111.2 182 111.5C184.7 111.8 186 112.4 190 113C194 113.6 201.3 114.7 206 115C210.7 115.3 214 115.3 218 115C222 114.7 225.2 113.5 230 113C234.8 112.5 241.7 112.8 247 112C252.3 111.2 258.2 108.3 262 108C265.8 107.7 266.3 109.5 270 110C273.7 110.5 279.7 110.5 284 111C288.3 111.5 292.8 112 296 113C299.2 114 302.3 115.5 303 117C303.7 118.5 301.8 120.7 300 122C298.2 123.3 294.5 124 292 125C289.5 126 286.8 126.5 285 128C283.2 129.5 281.2 131.8 281 134C280.8 136.2 282.7 138.8 284 141C285.3 143.2 287.7 144.3 289 147C290.3 149.7 334.7 155.3 292 157C249.3 158.7 76.2 163.1 33 157C-10.2 150.9 29.3 126.7 33 120.5Z" fill="#f3366e"/>
<path d="M33 124.5C36.7 118.9 47.8 123.8 55 123.5C62.2 123.2 71.5 121.8 76 122.6C80.5 123.3 79.7 125.8 82 128C84.3 130.2 87 133.2 90 136C93 138.8 96.7 142.5 100 145C103.3 147.5 107.7 149 110 151C112.3 153 126.8 156 114 157C101.2 158 46.5 162.4 33 157C19.5 151.6 29.3 130.1 33 124.5Z" fill="#ee5388"/>
<path d="M182 157C168 156 183.7 152.8 186 151C188.3 149.2 193 147.8 196 146C199 144.2 202 142.3 204 140C206 137.7 208 134.3 208 132C208 129.7 205.7 128 204 126C202.3 124 196.3 121.3 198 120C199.7 118.7 208.7 118.5 214 118C219.3 117.5 224.5 116.8 230 117C235.5 117.2 242.3 119 247 119C251.7 119 255.2 118.2 258 117C260.8 115.8 262.5 112.3 264 112C265.5 111.7 266.7 113 267 115C267.3 117 266 121.2 266 124C266 126.8 266.7 129.3 267 132C267.3 134.7 267.7 137.3 268 140C268.3 142.7 268.7 145.2 269 148C269.3 150.8 284.5 155.5 270 157C255.5 158.5 196 158 182 157Z" fill="#ee5388"/>
<path d="M176 113.5C177 113.1 180.7 112.8 183 113C185.3 113.2 189.2 114.3 190 115C190.8 115.7 189.5 116.7 188 117C186.5 117.3 182.8 117.2 181 117C179.2 116.8 177.8 116.1 177 115.5C176.2 114.9 175 113.9 176 113.5Z" fill="#ee5388"/>
<path d="M33 129C35.8 124 43.8 127.3 50 127C56.2 126.7 65 126.5 70 127C75 127.5 77 128.2 80 130C83 131.8 85.7 135.3 88 138C90.3 140.7 92.3 142.8 94 146C95.7 149.2 108.2 155.2 98 157C87.8 158.8 43.8 161.7 33 157C22.2 152.3 30.2 134 33 129Z" fill="#ef72ab"/>
<path d="M198 157C188.8 155.3 201.3 149.8 203 147C204.7 144.2 206.2 142 208 140C209.8 138 211.7 136.2 214 135C216.3 133.8 218.7 133.1 222 132.5C225.3 131.9 230.7 131.1 234 131.5C237.3 131.9 239.3 133.6 242 135C244.7 136.4 247.7 138.2 250 140C252.3 141.8 254.7 143.2 256 146C257.3 148.8 267.7 155.2 258 157C248.3 158.8 207.2 158.7 198 157Z" fill="#ef72ab"/>
<path d="M33 157C25 154.3 31.5 144.8 33 141C34.5 137.2 38.8 135.5 42 134C45.2 132.5 48 132.2 52 132C56 131.8 62.3 132 66 133C69.7 134 71.8 135.8 74 138C76.2 140.2 77.8 142.8 79 146C80.2 149.2 88.7 155.2 81 157C73.3 158.8 41 159.7 33 157Z" fill="#f4a8cf"/>
<path d="M208 157C201.7 155.8 207.6 151.8 208 150C208.4 148.2 209.1 147 210.4 146C211.7 145 214.7 144 216 144C217.3 144 216.8 145.8 218.5 146C220.2 146.2 223.6 145.9 226 145.4C228.4 144.9 231.1 143.8 233 143C234.9 142.2 236.3 140 237.5 140.3C238.7 140.6 239.5 143 240.4 144.7C241.3 146.4 242.1 148.4 243 150.5C243.9 152.6 251.8 155.9 246 157C240.2 158.1 214.3 158.2 208 157Z" fill="#f4a8cf"/>
<path d="M211 157C206.3 155.8 212.3 151.4 214 150C215.7 148.6 218.7 148.6 221.4 148.4C224.1 148.2 227.1 148.5 230 149C232.9 149.5 237 150 239 151.3C241 152.6 246.7 156.1 242 157C237.3 157.9 215.7 158.2 211 157Z" fill="#f7d3e6"/>
<use href="#bd"/>
</g>
<use href="#fr"/>
<text x="31.6" y="17.8" font-size="18" font-weight="bold" letter-spacing="0.7">(c)</text>
<text x="179.6" y="17.5" font-size="15" text-anchor="middle">RCP4.5 (2066-2095)</text>
<text x="26.3" y="32.4" font-size="12.3" text-anchor="end">40<tspan font-size="8.5" dy="-5">o</tspan><tspan dy="5">N</tspan></text>
<text x="26.3" y="96.8" font-size="12.3" text-anchor="end">30<tspan font-size="8.5" dy="-5">o</tspan><tspan dy="5">N</tspan></text>
<text x="26.3" y="161.2" font-size="12.3" text-anchor="end">20<tspan font-size="8.5" dy="-5">o</tspan><tspan dy="5">N</tspan></text>
<text x="34" y="175" font-size="12.3" text-anchor="middle">60<tspan font-size="8.5" dy="-5">o</tspan><tspan dy="5">E</tspan></text>
<text x="98.7" y="175" font-size="12.3" text-anchor="middle">70<tspan font-size="8.5" dy="-5">o</tspan><tspan dy="5">E</tspan></text>
<text x="163.4" y="175" font-size="12.3" text-anchor="middle">80<tspan font-size="8.5" dy="-5">o</tspan><tspan dy="5">E</tspan></text>
<text x="228.1" y="175" font-size="12.3" text-anchor="middle">90<tspan font-size="8.5" dy="-5">o</tspan><tspan dy="5">E</tspan></text>
<text x="292.8" y="175" font-size="12.3" text-anchor="middle">100<tspan font-size="8.5" dy="-5">o</tspan><tspan dy="5">E</tspan></text>
</g>
<g transform="translate(358 190)">
<rect x="34" y="27.4" width="291.2" height="128.8" fill="#fff"/>
<g clip-path="url(#cp)">
<rect x="34" y="28" width="292" height="128" fill="#f00428"/>
<path d="M33 50.3C30.6 60.2 30.2 99 33 109C35.8 119 43.8 109.8 50 110C56.2 110.2 63.3 110.3 70 110C76.7 109.7 84 108.8 90 108C96 107.2 101.3 106.3 106 105C110.7 103.7 114 102 118 100C122 98 126.7 95 130 93C133.3 91 135.3 89.1 138 88C140.7 86.9 143.3 86.2 146 86.5C148.7 86.8 150.5 88.4 154 90C157.5 91.6 162.7 94 167 96C171.3 98 175.3 100.2 180 102C184.7 103.8 189.7 105.3 195 106.5C200.3 107.7 205.8 108.6 212 109C218.2 109.4 225.7 108.8 232 109C238.3 109.2 242.8 110.2 250 110C257.2 109.8 267.3 108.8 275 107.5C282.7 106.2 289.8 104.4 296 102C302.2 99.6 308 96.7 312 93C316 89.3 317.7 83.5 320 80C322.3 76.5 325 80.8 326 72C327 63.2 368.8 34.5 326 27C283.2 19.5 112.6 25.1 69.5 27C26.4 28.9 69 35.4 67.3 38.6C65.6 41.8 62.5 44.2 59.2 46C55.9 47.8 51.9 48.9 47.5 49.6C43.1 50.3 35.4 40.4 33 50.3Z" fill="#e80529"/>
<path d="M81.2 27C40.1 28.7 80.9 34.3 79.7 37.2C78.5 40.1 76.6 42.2 73.9 44.5C71.2 46.8 67.2 49.2 63.6 51C60 52.8 55.6 54.1 52 55.4C48.4 56.7 44.9 57.9 41.7 59C38.5 60.1 34.5 54.8 33 62C31.6 69.2 30.2 95 33 102C35.8 109 43.8 103.5 50 104C56.2 104.5 64 104.8 70 105C76 105.2 81.3 105.3 86 105C90.7 104.7 94 104.2 98 103C102 101.8 106.3 99.8 110 98C113.7 96.2 116.7 94 120 92C123.3 90 127 87.8 130 86C133 84.2 135.3 81.3 138 81C140.7 80.7 143.3 82.8 146 84C148.7 85.2 151.3 86.7 154 88C156.7 89.3 159 90.4 162 92C165 93.6 168 95.8 172 97.5C176 99.2 181.3 101.2 186 102.5C190.7 103.8 195 104.7 200 105.5C205 106.3 210.3 107.2 216 107.5C221.7 107.8 228.3 107.4 234 107.5C239.7 107.6 243.3 108.4 250 108C256.7 107.6 266.7 106.5 274 105C281.3 103.5 288.3 101.5 294 99C299.7 96.5 304.7 93.8 308 90C311.3 86.2 312.7 81 314 76C315.3 71 314 64.3 316 60C318 55.7 324.3 55.5 326 50C327.7 44.5 366.8 30.8 326 27C285.2 23.2 122.2 25.3 81.2 27Z" fill="#d00626"/>
<path d="M95.8 27C60.9 28.7 95.5 34.3 94.3 37.2C93.1 40.1 90.7 42.5 88.5 44.5C86.3 46.5 83.6 47.4 81.2 48.9C78.8 50.4 76.4 51.5 73.9 53.2C71.5 54.9 68.5 57 66.5 59C64.5 61 63.6 62.8 62.2 65C60.8 67.2 59 69.5 58 72C57 74.5 55.7 77.3 56 80C56.3 82.7 58 85.5 60 88C62 90.5 64.7 93.2 68 95C71.3 96.8 76 98.2 80 99C84 99.8 88.3 100.2 92 100C95.7 99.8 99 98.7 102 97.5C105 96.3 107.3 94.2 110 93C112.7 91.8 115.3 91.2 118 90C120.7 88.8 123.3 87.3 126 86C128.7 84.7 132 83.2 134 82C136 80.8 136 78.8 138 79C140 79.2 143.3 81.7 146 83C148.7 84.3 151.3 85.7 154 87C156.7 88.3 159 89.4 162 91C165 92.6 168 94.8 172 96.5C176 98.2 181.3 100.2 186 101.5C190.7 102.8 195 103.7 200 104.5C205 105.3 210.3 106.3 216 106.5C221.7 106.7 227 106.6 234 105.5C241 104.4 250.7 101.9 258 100C265.3 98.1 272.3 96.3 278 94C283.7 91.7 288.7 89 292 86C295.3 83 297.3 79.7 298 76C298.7 72.3 295.7 68 296 64C296.3 60 299 56 300 52C301 48 301.3 44.2 302 40C302.7 35.8 338.4 29.2 304 27C269.6 24.8 130.8 25.3 95.8 27Z" fill="#bb0422"/>
<path d="M256 44C257.7 42.7 268.3 42 274 42C279.7 42 286.7 42.7 290 44C293.3 45.3 295.7 48.7 294 50C292.3 51.3 285 52 280 52C275 52 268 51.3 264 50C260 48.7 254.3 45.3 256 44Z" fill="#d00626"/>
<path d="M107.5 27C81.5 28.2 102.2 32 100.2 34.2C98.2 36.4 96.8 37.8 95.8 40C94.8 42.2 95.5 45.2 94.3 47.4C93.1 49.6 90.9 51.6 88.5 53.2C86.1 54.8 82.1 55.8 79.7 57C77.3 58.2 75.1 58.9 73.9 60.5C72.7 62.1 71.7 64.9 72.4 66.4C73.1 67.9 75.5 69.3 78.2 69.5C80.9 69.7 85.2 68.2 88.5 67.5C91.8 66.8 94.8 65.8 98 65.5C101.2 65.2 104.7 65.3 108 65.5C111.3 65.7 115 65.9 118 66.5C121 67.1 122.3 67.8 126 69C129.7 70.2 136 72.2 140 74C144 75.8 146.7 77.8 150 80C153.3 82.2 156.7 84.8 160 87C163.3 89.2 166.3 91 170 93C173.7 95 177.7 97.3 182 99C186.3 100.7 191 102.2 196 103C201 103.8 207 104.2 212 104C217 103.8 220.3 103.3 226 102C231.7 100.7 240 97.7 246 96C252 94.3 257.7 93.7 262 92C266.3 90.3 270.2 88.3 272 86C273.8 83.7 274 80.7 273 78C272 75.3 269.8 72.7 266 70C262.2 67.3 255.3 64 250 62C244.7 60 239.3 59.1 234 58C228.7 56.9 223.3 56.2 218 55.5C212.7 54.8 207.3 54.2 202 54C196.7 53.8 190.3 53.8 186 54C181.7 54.2 177 55.7 176 55C175 54.3 177 51.2 180 50C183 48.8 188.3 48.7 194 48C199.7 47.3 208 46.7 214 46C220 45.3 225.7 45 230 44C234.3 43 236.7 41.3 240 40C243.3 38.7 247.3 38.2 250 36C252.7 33.8 279.8 28.5 256 27C232.2 25.5 133.5 25.8 107.5 27Z" fill="#a60520"/>
<path d="M158 42C160 40.3 169 37.3 176 36C183 34.7 192.3 34.2 200 34C207.7 33.8 216.3 34.3 222 35C227.7 35.7 232.7 36.5 234 38C235.3 39.5 233.3 42.7 230 44C226.7 45.3 220 45.3 214 46C208 46.7 200.3 47.7 194 48C187.7 48.3 181 48.3 176 48C171 47.7 167 47 164 46C161 45 156 43.7 158 42Z" fill="#bb0422"/>
<path d="M91 57.5C89.8 56.2 89.2 53.9 89.5 52C89.8 50.1 91.8 47.9 93 46C94.2 44.1 95.6 42.1 97 40.5C98.4 38.9 99.3 37.5 101.5 36.5C103.7 35.5 106.6 34.7 110 34.5C113.4 34.3 118.3 34.6 122 35.5C125.7 36.4 129 37.9 132 40C135 42.1 137 45.7 140 48C143 50.3 146.3 52.7 150 54C153.7 55.3 158 55.5 162 56C166 56.5 170 56 174 57C178 58 182.3 59.8 186 62C189.7 64.2 192.7 67.5 196 70C199.3 72.5 202.3 75.2 206 77C209.7 78.8 214.7 79.5 218 81C221.3 82.5 224.5 84.2 226 86C227.5 87.8 227.7 90.2 227 92C226.3 93.8 224.8 95.8 222 97C219.2 98.2 214.7 98.8 210 99C205.3 99.2 199 99 194 98C189 97 184 94.7 180 93C176 91.3 173.3 89.8 170 88C166.7 86.2 163.3 84.2 160 82C156.7 79.8 153.3 77 150 75C146.7 73 144 71.8 140 70C136 68.2 130.3 65.9 126 64.5C121.7 63.1 117.7 62.2 114 61.5C110.3 60.8 106.8 60.3 104 60C101.2 59.7 99.2 59.9 97 59.5C94.8 59.1 92.2 58.8 91 57.5Z" fill="#880318"/>
<path d="M100.5 49C100.7 47.5 102.1 45.2 104 44C105.9 42.8 109.2 41.9 112 41.5C114.8 41.1 118.3 41 121 41.5C123.7 42 127 43.1 128 44.5C129 45.9 128.5 48.5 127 50C125.5 51.5 121.8 52.8 119 53.5C116.2 54.2 112.7 54.6 110 54.5C107.3 54.4 104.6 53.9 103 53C101.4 52.1 100.3 50.5 100.5 49Z" fill="#740214"/>
<path d="M159 67C159.8 65.3 163.5 64 166 64C168.5 64 171 65.3 174 67C177 68.7 180.7 71.5 184 74C187.3 76.5 190.7 79.7 194 82C197.3 84.3 201.5 86.2 204 88C206.5 89.8 209.3 91.8 209 93C208.7 94.2 205.2 95.2 202 95C198.8 94.8 194 93.5 190 92C186 90.5 181.7 88 178 86C174.3 84 170.8 82 168 80C165.2 78 162.5 76.2 161 74C159.5 71.8 158.2 68.7 159 67Z" fill="#740214"/>
<path d="M33 115C35.8 108.2 43.8 116 50 116C56.2 116 63.3 115.3 70 115C76.7 114.7 83.3 114.5 90 114C96.7 113.5 104 113 110 112C116 111 121.3 109.7 126 108C130.7 106.3 134.7 103.7 138 102C141.3 100.3 143.3 98.7 146 98C148.7 97.3 150.5 97.3 154 98C157.5 98.7 162.7 100.7 167 102C171.3 103.3 175.3 104.8 180 106C184.7 107.2 189.7 108.2 195 109C200.3 109.8 205.8 110.7 212 111C218.2 111.3 225.7 110.9 232 111C238.3 111.1 242.8 111.8 250 111.5C257.2 111.2 267.3 110.6 275 109.5C282.7 108.4 289.8 106.9 296 105C302.2 103.1 308 100.8 312 98C316 95.2 317.7 90.7 320 88C322.3 85.3 325 70.5 326 82C327 93.5 374.8 144.5 326 157C277.2 169.5 81.8 164 33 157C-15.8 150 30.2 121.8 33 115Z" fill="#f50527"/>
<path d="M33 118C35.8 111.6 43.8 118.5 50 118.5C56.2 118.5 63.3 118.2 70 118C76.7 117.8 83 117.8 90 117.5C97 117.2 105.3 116.9 112 116C118.7 115.1 125 113.7 130 112C135 110.3 138.7 107.5 142 106C145.3 104.5 147 103.3 150 103C153 102.7 156.7 103.4 160 104C163.3 104.6 166 105.7 170 106.5C174 107.3 179.3 108.2 184 109C188.7 109.8 193 110.8 198 111.5C203 112.2 208.3 112.8 214 113C219.7 113.2 226 113 232 113C238 113 242.8 113.3 250 113C257.2 112.7 267.3 111.9 275 111C282.7 110.1 289.8 109 296 107.5C302.2 106 307.7 104.2 312 102C316.3 99.8 319.7 96 322 94C324.3 92 325.3 79.5 326 90C326.7 100.5 374.8 145.8 326 157C277.2 168.2 81.8 163.5 33 157C-15.8 150.5 30.2 124.4 33 118Z" fill="#f70d28"/>
<path d="M33 120.5C36.7 114.3 47.8 119.9 55 120C62.2 120.1 71.8 120.5 76 121C80.2 121.5 77.7 121.5 80 123C82.3 124.5 86.3 127.8 90 130C93.7 132.2 98 134.3 102 136C106 137.7 109.3 138.9 114 140C118.7 141.1 124 141.9 130 142.5C136 143.1 143.3 143.4 150 143.5C156.7 143.6 164 143.4 170 143C176 142.6 181.3 141.8 186 141C190.7 140.2 195.5 139.5 198 138C200.5 136.5 201 134.3 201 132C201 129.7 198.2 126.5 198 124C197.8 121.5 197.3 118.5 200 117C202.7 115.5 209 115.3 214 115C219 114.7 224 115.4 230 115C236 114.6 244 113.2 250 112.5C256 111.8 260.7 110.8 266 110.5C271.3 110.2 276.7 110.8 282 111C287.3 111.2 293.3 111.2 298 112C302.7 112.8 306.3 114.7 310 116C313.7 117.3 317.3 118.7 320 120C322.7 121.3 325 117.8 326 124C327 130.2 374.8 151.5 326 157C277.2 162.5 81.8 163.1 33 157C-15.8 150.9 29.3 126.7 33 120.5Z" fill="#f61c3e"/>
<path d="M33 122.5C36.7 116.7 47.8 122 55 122C62.2 122 72.2 122 76 122.2C79.8 122.4 76.7 121.7 78 123C79.3 124.3 81.7 127.5 84 130C86.3 132.5 89 135.3 92 138C95 140.7 98.3 143.8 102 146C105.7 148.2 111.3 149.2 114 151C116.7 152.8 131.5 156 118 157C104.5 158 47.2 162.8 33 157C18.8 151.2 29.3 128.3 33 122.5Z" fill="#f3366e"/>
<path d="M190 157C176.7 155.3 195.7 149.8 198 147C200.3 144.2 202 142.5 204 140C206 137.5 207.7 134.3 210 132C212.3 129.7 215 127.3 218 126C221 124.7 225 124.2 228 124C231 123.8 233.7 124.2 236 125C238.3 125.8 240 127 242 128.5C244 130 245.7 132.2 248 134C250.3 135.8 253.3 137.6 256 139C258.7 140.4 261.5 141.3 264 142.5C266.5 143.7 269 144.8 271 146C273 147.2 274.8 148.2 276 150C277.2 151.8 292.3 155.8 278 157C263.7 158.2 203.3 158.7 190 157Z" fill="#f3366e"/>
<path d="M33 126.5C36.7 121.3 48.2 126.2 55 126C61.8 125.8 69.6 125.1 74 125.5C78.4 125.9 78.5 126.1 81.4 128.4C84.3 130.7 88.2 135.9 91.3 139.4C94.4 142.9 97.5 146.3 100 149.2C102.5 152.1 117.8 155.7 106.6 157C95.4 158.3 45.3 162.1 33 157C20.7 151.9 29.3 131.7 33 126.5Z" fill="#ee5388"/>
<path d="M202 157C193.7 155.5 204.3 150.5 206 148C207.7 145.5 209.7 143.7 212 142C214.3 140.3 217 139.3 220 138C223 136.7 227 135 230 134C233 133 235.8 131.7 238 132C240.2 132.3 241.5 134.3 243 136C244.5 137.7 245.5 140 247 142C248.5 144 250.5 145.5 252 148C253.5 150.5 264.3 155.5 256 157C247.7 158.5 210.3 158.5 202 157Z" fill="#ee5388"/>
<path d="M33 131C34.5 126.6 38.2 130.8 42 130.5C45.8 130.2 51.3 129.5 56 129.5C60.7 129.5 66 129.6 70 130.5C74 131.4 77.2 132.8 80 135C82.8 137.2 84.8 141.2 87 144C89.2 146.8 92.2 149.3 93.5 151.5C94.8 153.7 105.1 156.1 95 157C84.9 157.9 43.3 161.3 33 157C22.7 152.7 31.5 135.4 33 131Z" fill="#ef72ab"/>
<path d="M204 157C197.7 155.5 207.3 150 209 148C210.7 146 211.8 145.8 214 145C216.2 144.2 219 143.7 222 143C225 142.3 229.3 141.7 232 141C234.7 140.3 236.5 138.7 238 139C239.5 139.3 240 141.3 241 143C242 144.7 243 146.7 244 149C245 151.3 253.7 155.7 247 157C240.3 158.3 210.3 158.5 204 157Z" fill="#ef72ab"/>
<path d="M208 157C202.5 155.7 208.7 150.8 210 149C211.3 147.2 212.7 146.7 216 146C219.3 145.3 226.3 145.6 230 145C233.7 144.4 236.2 142 238 142.5C239.8 143 240.2 145.6 241 148C241.8 150.4 248.5 155.5 243 157C237.5 158.5 213.5 158.3 208 157Z" fill="#f4a8cf"/>
<path d="M214 157C210.3 155.8 215.7 151.2 218 150C220.3 148.8 224.7 149.3 228 149.5C231.3 149.7 236 149.8 238 151C240 152.2 244 156 240 157C236 158 217.7 158.2 214 157Z" fill="#f7d3e6"/>
<use href="#bd"/>
</g>
<use href="#fr"/>
<text x="31.6" y="17.8" font-size="18" font-weight="bold" letter-spacing="0.7">(d)</text>
<text x="179.6" y="17.5" font-size="15" text-anchor="middle">RCP8.5 (2066-2095)</text>
<text x="26.3" y="32.4" font-size="12.3" text-anchor="end">40<tspan font-size="8.5" dy="-5">o</tspan><tspan dy="5">N</tspan></text>
<text x="26.3" y="96.8" font-size="12.3" text-anchor="end">30<tspan font-size="8.5" dy="-5">o</tspan><tspan dy="5">N</tspan></text>
<text x="26.3" y="161.2" font-size="12.3" text-anchor="end">20<tspan font-size="8.5" dy="-5">o</tspan><tspan dy="5">N</tspan></text>
<text x="34" y="175" font-size="12.3" text-anchor="middle">60<tspan font-size="8.5" dy="-5">o</tspan><tspan dy="5">E</tspan></text>
<text x="98.7" y="175" font-size="12.3" text-anchor="middle">70<tspan font-size="8.5" dy="-5">o</tspan><tspan dy="5">E</tspan></text>
<text x="163.4" y="175" font-size="12.3" text-anchor="middle">80<tspan font-size="8.5" dy="-5">o</tspan><tspan dy="5">E</tspan></text>
<text x="228.1" y="175" font-size="12.3" text-anchor="middle">90<tspan font-size="8.5" dy="-5">o</tspan><tspan dy="5">E</tspan></text>
<text x="292.8" y="175" font-size="12.3" text-anchor="middle">100<tspan font-size="8.5" dy="-5">o</tspan><tspan dy="5">E</tspan></text>
</g>
<rect x="166" y="390.3" width="23.5" height="22.5" fill="#f7d3e6"/>
<rect x="189.4" y="390.3" width="23.5" height="22.5" fill="#f4a8cf"/>
<rect x="212.8" y="390.3" width="23.5" height="22.5" fill="#ef72ab"/>
<rect x="236.2" y="390.3" width="23.5" height="22.5" fill="#ee5388"/>
<rect x="259.6" y="390.3" width="23.5" height="22.5" fill="#f3366e"/>
<rect x="283" y="390.3" width="23.5" height="22.5" fill="#f61c3e"/>
<rect x="306.4" y="390.3" width="23.5" height="22.5" fill="#f70d28"/>
<rect x="329.8" y="390.3" width="23.5" height="22.5" fill="#f50527"/>
<rect x="353.2" y="390.3" width="23.5" height="22.5" fill="#f00428"/>
<rect x="376.6" y="390.3" width="23.5" height="22.5" fill="#e80529"/>
<rect x="400" y="390.3" width="23.5" height="22.5" fill="#d00626"/>
<rect x="423.4" y="390.3" width="23.5" height="22.5" fill="#bb0422"/>
<rect x="446.8" y="390.3" width="23.5" height="22.5" fill="#a60520"/>
<rect x="470.2" y="390.3" width="23.5" height="22.5" fill="#880318"/>
<rect x="493.6" y="390.3" width="23.5" height="22.5" fill="#740214"/>
<path d="M166 390.3V412.8M189.4 390.3V412.8M212.8 390.3V412.8M236.2 390.3V412.8M259.6 390.3V412.8M283 390.3V412.8M306.4 390.3V412.8M329.8 390.3V412.8M353.2 390.3V412.8M376.6 390.3V412.8M400 390.3V412.8M423.4 390.3V412.8M446.8 390.3V412.8M470.2 390.3V412.8M493.6 390.3V412.8M517 390.3V412.8M166 390.3H517M166 412.8H517" stroke="#000" stroke-width="1" fill="none"/>
<text x="189.4" y="429.8" font-size="16" text-anchor="middle">1.2</text>
<text x="236.2" y="429.8" font-size="16" text-anchor="middle">1.4</text>
<text x="283" y="429.8" font-size="16" text-anchor="middle">1.6</text>
<text x="329.8" y="429.8" font-size="16" text-anchor="middle">1.8</text>
<text x="376.6" y="429.8" font-size="16" text-anchor="middle">2</text>
<text x="423.4" y="429.8" font-size="16" text-anchor="middle">2.2</text>
<text x="470.2" y="429.8" font-size="16" text-anchor="middle">2.4</text>
<text x="524.3" y="408.2" font-size="17.5"><tspan font-size="9" dy="-5.6">o</tspan><tspan dy="5.6">C</tspan></text>
</svg></body></html>
